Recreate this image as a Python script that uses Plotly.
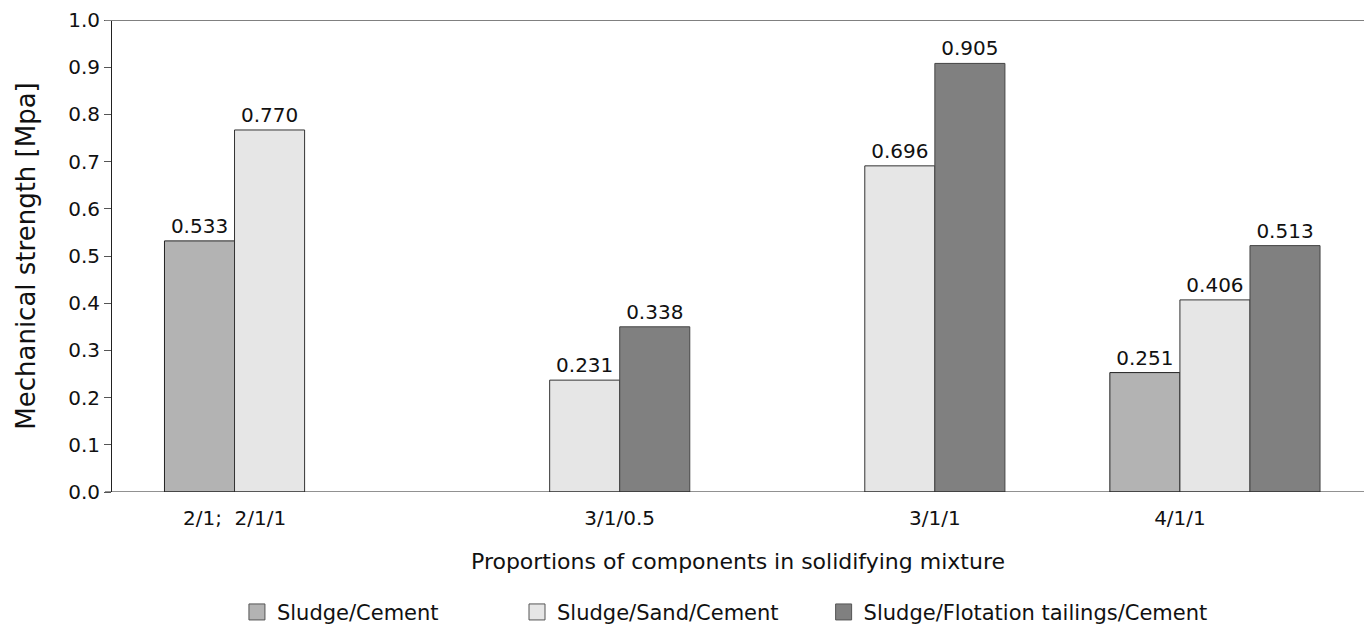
import plotly.graph_objects as go

categories = ["2/1;\u00a0\u00a02/1/1", "3/1/0.5", "3/1/1", "4/1/1"]
group_pos = [0, 1, 2, 3]
tick_pos = [-0.111, 1.111, 2.111, 2.889]

series_names = ["Sludge/Cement", "Sludge/Sand/Cement", "Sludge/Flotation tailings/Cement"]
cement_vals = [0.532, None, None, 0.253]
sand_vals = [0.767, 0.237, 0.691, 0.407]
flot_vals = [None, 0.350, 0.908, 0.522]
cement_text = ["0.533", "", "", "0.251"]
sand_text = ["0.770", "0.231", "0.696", "0.406"]
flot_text = ["", "0.338", "0.905", "0.513"]

fill_colors = ["#b3b3b3", "#e6e6e6", "#808080"]
edge_colors = ["#222222", "#333333", "#444444"]
legend_edge = "#555555"
legend_pad = [11, 6, 0]  # trailing non-breaking spaces for legend spacing

FONT = "DejaVu Sans, sans-serif"
fig = go.Figure()
for name, vals, txt, fc, ec in zip(series_names, [cement_vals, sand_vals, flot_vals],
                                   [cement_text, sand_text, flot_text], fill_colors, edge_colors):
    fig.add_trace(go.Bar(
        name=name, x=group_pos, y=vals, text=txt, textposition="outside",
        textfont=dict(family=FONT, size=20, color="#111111"),
        constraintext="none", cliponaxis=False, showlegend=False,
        marker=dict(color=fc, line=dict(color=ec, width=1)),
    ))
# legend entries as square markers
for name, fc, pad in zip(series_names, fill_colors, legend_pad):
    fig.add_trace(go.Scatter(
        name=name + "\u00a0" * pad, x=[None], y=[None], mode="markers",
        marker=dict(symbol="square", size=22, color=fc, line=dict(color=legend_edge, width=1)),
    ))

fig.update_layout(
    width=1364, height=628,
    paper_bgcolor="white", plot_bgcolor="white",
    margin=dict(l=112, r=0, t=20, b=136),
    barmode="group", bargap=0.333, bargroupgap=0,
    font=dict(family=FONT, size=20, color="#111111"),
    showlegend=True,
    legend=dict(orientation="h", x=0.0998, xanchor="left", xref="paper",
                y=0.025, yanchor="middle", yref="container",
                font=dict(family=FONT, size=21, color="#111111"), itemwidth=30,
                itemsizing="trace"),
    xaxis=dict(range=[-0.5, 3.473], tickmode="array", tickvals=tick_pos, ticktext=categories,
               ticks="", showgrid=False, zeroline=False, showline=False, automargin=False,
               ticklabelstandoff=12,
               tickfont=dict(family=FONT, size=20),
               title=dict(text="Proportions of components in solidifying mixture",
                          font=dict(family=FONT, size=22), standoff=24)),
    yaxis=dict(range=[0, 1], tickmode="linear", tick0=0, dtick=0.1, tickformat=".1f",
               ticks="outside", ticklen=7, tickcolor="#555555", showgrid=False, zeroline=False,
               showline=True, linecolor="#222222", linewidth=1, automargin=False,
               tickfont=dict(family=FONT, size=20),
               title=dict(text="Mechanical strength [Mpa]", font=dict(family=FONT, size=26), standoff=25)),
    shapes=[
        dict(type="line", xref="paper", yref="y", x0=-0.0056, x1=1, y0=0, y1=0,
             line=dict(color="#222222", width=1)),
        dict(type="line", xref="paper", yref="y", x0=-0.0056, x1=1, y0=1, y1=1,
             line=dict(color="#808080", width=2)),
    ],
)

fig.write_html("out.html", config={"displayModeBar": False},
               post_script="document.body.style.margin='0';document.body.style.overflow='hidden';")
